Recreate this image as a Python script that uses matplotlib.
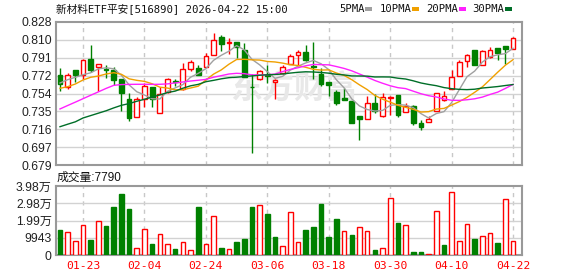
import numpy as np
import matplotlib
matplotlib.use("Agg")
import matplotlib.pyplot as plt
from matplotlib.patches import Rectangle

# ---------------- data ----------------
title = "新材料ETF平安[516890] 2026-04-22 15:00"
date_labels = ["01-23", "02-04", "02-24", "03-06", "03-18", "03-30", "04-10", "04-22"]
date_idx = [3, 11, 19, 27, 35, 43, 51, 59]

opens = [0.7725, 0.7600, 0.7777, 0.7731, 0.7891, 0.7814, 0.7790, 0.7783, 0.7686, 0.7478,
         0.7287, 0.7475, 0.7600, 0.7329, 0.7551, 0.7668, 0.7582, 0.7794, 0.7801, 0.7808,
         0.7933, 0.8124, 0.8064, 0.8072, 0.7991, 0.7607, 0.7683, 0.7731, 0.7655, 0.7749,
         0.7845, 0.7936, 0.7967, 0.7818, 0.7738, 0.7652, 0.7551, 0.7485, 0.7460, 0.7304,
         0.7272, 0.7436, 0.7304, 0.7488, 0.7516, 0.7339, 0.7402, 0.7228, 0.7241, 0.7350,
         0.7470, 0.7582, 0.7714, 0.7870, 0.7985, 0.7835, 0.7915, 0.8009, 0.8027, 0.8002]
highs = [0.7801, 0.7749, 0.7777, 0.7894, 0.8040, 0.7839, 0.7832, 0.7808, 0.7686, 0.7540,
         0.7496, 0.7641, 0.7605, 0.7600, 0.7697, 0.7686, 0.7853, 0.7887, 0.7835, 0.7957,
         0.8165, 0.8141, 0.8113, 0.8072, 0.8061, 0.7740, 0.7783, 0.7835, 0.7683, 0.7835,
         0.7950, 0.7991, 0.8044, 0.8072, 0.7801, 0.7652, 0.7575, 0.7592, 0.7460, 0.7304,
         0.7506, 0.7530, 0.7540, 0.7506, 0.7522, 0.7436, 0.7412, 0.7256, 0.7297, 0.7540,
         0.7558, 0.7783, 0.7881, 0.7950, 0.7985, 0.7991, 0.8016, 0.8009, 0.8027, 0.8124]
lows = [0.7558, 0.7582, 0.7652, 0.7689, 0.7759, 0.7564, 0.7700, 0.7627, 0.7350, 0.7245,
        0.7287, 0.7394, 0.7391, 0.7329, 0.7540, 0.7616, 0.7575, 0.7766, 0.7725, 0.7808,
        0.7933, 0.7981, 0.7947, 0.7905, 0.7704, 0.6918, 0.7679, 0.7644, 0.7481, 0.7738,
        0.7845, 0.7829, 0.7877, 0.7689, 0.7610, 0.7512, 0.7412, 0.7470, 0.7228, 0.7054,
        0.7272, 0.7332, 0.7290, 0.7314, 0.7290, 0.7339, 0.7210, 0.7158, 0.7241, 0.7350,
        0.7454, 0.7582, 0.7714, 0.7808, 0.7835, 0.7835, 0.7905, 0.7887, 0.7845, 0.8002]
closes = [0.7637, 0.7725, 0.7731, 0.7881, 0.7780, 0.7839, 0.7783, 0.7679, 0.7543, 0.7280,
          0.7481, 0.7616, 0.7481, 0.7530, 0.7683, 0.7657, 0.7790, 0.7863, 0.7731, 0.7929,
          0.8092, 0.8051, 0.8075, 0.8023, 0.7704, 0.7600, 0.7766, 0.7717, 0.7679, 0.7808,
          0.7923, 0.7971, 0.7887, 0.7808, 0.7634, 0.7620, 0.7436, 0.7470, 0.7228, 0.7272,
          0.7436, 0.7356, 0.7498, 0.7498, 0.7308, 0.7408, 0.7228, 0.7186, 0.7269, 0.7540,
          0.7506, 0.7704, 0.7860, 0.7939, 0.7835, 0.7975, 0.7985, 0.7957, 0.8002, 0.8113]

volumes = [14583, 13430, 8243, 17465, 8819, 19598, 16889, 27840, 34930, 26687,
           4035, 14986, 6513, 12277, 6340, 3631, 7666, 2882, 27840, 6340,
           22480, 4035, 3228, 7666, 9395, 27840, 28820, 23805, 10548, 5188,
           24958, 7666, 14583, 16312, 29569, 10548, 20923, 13834, 11701, 16139,
           13834, 3055, 4035, 32855, 18618, 17292, 1902, 1902, 750, 25362,
           5937, 36313, 8070, 17868, 9395, 10952, 12854, 7090, 32278, 7790]
vol_up = [0, 1, 1, 1, 0, 1, 0, 0, 0, 0,
          1, 1, 0, 1, 1, 0, 1, 1, 0, 1,
          1, 0, 1, 0, 0, 0, 1, 0, 0, 1,
          1, 1, 0, 0, 0, 0, 0, 1, 0, 1,
          1, 0, 1, 1, 0, 1, 0, 0, 1, 1,
          0, 1, 1, 1, 0, 1, 1, 0, 1, 1]

# moving-average values at the left edge (the earlier closes are not shown)
ma5_head = [0.7644, 0.7679, 0.7704, 0.7731]
ma10_head = [0.7589, 0.7606, 0.7634, 0.7676, 0.7704, 0.7717, 0.7738, 0.7752, 0.7735]
ma20_head = [0.7374, 0.7410, 0.7445, 0.7481, 0.7517, 0.7552, 0.7588, 0.7620, 0.7628, 0.7630,
             0.7631, 0.7631, 0.7630, 0.7631, 0.7635, 0.7645, 0.7655, 0.7665, 0.7673]
ma30_head = [0.7189, 0.7215, 0.7240, 0.7280, 0.7305, 0.7330, 0.7355, 0.7385, 0.7412, 0.7430,
             0.7454, 0.7475, 0.7498, 0.7520, 0.7545, 0.7560, 0.7590, 0.7615, 0.7630, 0.7658,
             0.7672, 0.7688, 0.7700, 0.7705, 0.7712, 0.7718, 0.7725, 0.7730, 0.7733]

price_ticks = [0.679, 0.697, 0.716, 0.735, 0.754, 0.772, 0.791, 0.810, 0.828]
vol_ticks = [0, 9943, 19886, 29829, 39772]
vol_tick_labels = ["0", "9943", "1.99万", "2.98万", "3.98万"]
ma_names = ["5PMA", "10PMA", "20PMA", "30PMA"]
ma_colors = ["#a0a0a0", "#f0a000", "#ff20ff", "#006e28"]

# ---------------- helpers ----------------
W, H = 578, 276
def fx(px):
    return px / W
def fy(py):
    return 1 - py / H

c = np.array(closes)
def moving(head, n):
    out = list(head)
    for i in range(n - 1, len(c)):
        out.append(c[i - n + 1:i + 1].mean())
    return np.array(out)

mas = [moving(ma5_head, 5), moving(ma10_head, 10), moving(ma20_head, 20), moving(ma30_head, 30)]

RED = "#ff0000"
GREEN = "#008000"
GRID = "#d2d2d2"
SPINE = "#999999"
N = len(closes)
x = np.arange(N)

fig = plt.figure(figsize=(W / 100, H / 100), dpi=100)
fig.patch.set_facecolor("white")

ax = fig.add_axes([fx(56), fy(165), fx(466), (165 - 22) / H])
axv = fig.add_axes([fx(56), fy(255), fx(466), (255 - 186) / H])

xlim = (-0.52, 60.16)
for a in (ax, axv):
    a.set_xlim(*xlim)
    for s in a.spines.values():
        s.set_color(SPINE)
        s.set_linewidth(1.5)
    a.tick_params(length=0)
    for d in date_idx:
        a.axvline(d, color="#c8c8c8", lw=1, ls=(0, (3, 3)), zorder=0)

# ---- price panel ----
ax.set_ylim(price_ticks[0], price_ticks[-1])
pt = np.linspace(price_ticks[0], price_ticks[-1], len(price_ticks))
ax.set_yticks(pt)
ax.set_yticklabels([f"{v:.3f}" for v in price_ticks], family="Liberation Sans",
                   fontsize=8.7, color="#222222")
ax.tick_params(axis="y", pad=3)
ax.set_xticks([])
for v in pt[1:-1]:
    ax.axhline(v, color=GRID, lw=1, zorder=0)

ax.text(0.51, 0.53, "东方财富", transform=ax.transAxes, fontsize=23, color="#e8e8e8",
        fontweight="bold", ha="center", va="center", family="Noto Sans CJK SC", zorder=0.5)

bw = 0.62
for i in range(N):
    o, h, l, cl = opens[i], highs[i], lows[i], closes[i]
    up = cl > o
    col = RED if up else GREEN
    ax.vlines(i, l, h, color=col, lw=1, zorder=3)
    lo, hi = min(o, cl), max(o, cl)
    hgt = max(hi - lo, 0.0004)
    if up:
        ax.add_patch(Rectangle((i - bw / 2, lo), bw, hgt, facecolor="white",
                               edgecolor=col, lw=1, zorder=4))
    else:
        ax.add_patch(Rectangle((i - bw / 2, lo), bw, hgt, facecolor=col,
                               edgecolor=col, lw=1, zorder=4))

for m, col in zip(mas, ma_colors):
    ax.plot(x, m, color=col, lw=1, zorder=5)

# ---- volume panel ----
axv.set_ylim(0, vol_ticks[-1])
axv.set_yticks(vol_ticks)
axv.set_yticklabels(vol_tick_labels, family=["Liberation Sans", "Noto Sans CJK SC"],
                    fontsize=8.7, color="#222222")
axv.tick_params(axis="y", pad=3)
for v in vol_ticks[1:-1]:
    axv.axhline(v, color=GRID, lw=1, zorder=0)
vb = 0.6
for i in range(N):
    if vol_up[i]:
        axv.bar(i, volumes[i], width=vb, facecolor="white", edgecolor=RED, lw=1, zorder=3)
    else:
        axv.bar(i, volumes[i], width=vb, facecolor=GREEN, edgecolor=GREEN, lw=1, zorder=3)
axv.set_xticks(date_idx)
axv.set_xticklabels(date_labels, family="DejaVu Sans Mono", fontsize=8.2, color=RED)
axv.tick_params(axis="x", pad=4)

# ---- texts ----
fig.text(fx(56), fy(9), title, family=["DejaVu Sans Mono", "Noto Sans CJK SC"],
         fontsize=7.7, color="#111111", ha="left", va="center")
fig.text(fx(57), fy(178), f"成交量:{volumes[-1]}", family=["Liberation Sans", "Noto Sans CJK SC"],
         fontsize=8.5, color="#111111", ha="left", va="center")

leg_x = [339, 380, 426, 472]
sq_x = [365, 412, 459, 505]
for name, col, lx, sx in zip(ma_names, ma_colors, leg_x, sq_x):
    fig.text(fx(lx), fy(9), name, family="DejaVu Sans Mono", fontsize=7.6,
             color="#111111", ha="left", va="center")
    fig.patches.append(Rectangle((fx(sx), fy(10.5)), fx(6.5), 3.5 / H, transform=fig.transFigure,
                                 facecolor=col, edgecolor="none"))

fig.savefig("out.png", dpi=100, facecolor="white")
